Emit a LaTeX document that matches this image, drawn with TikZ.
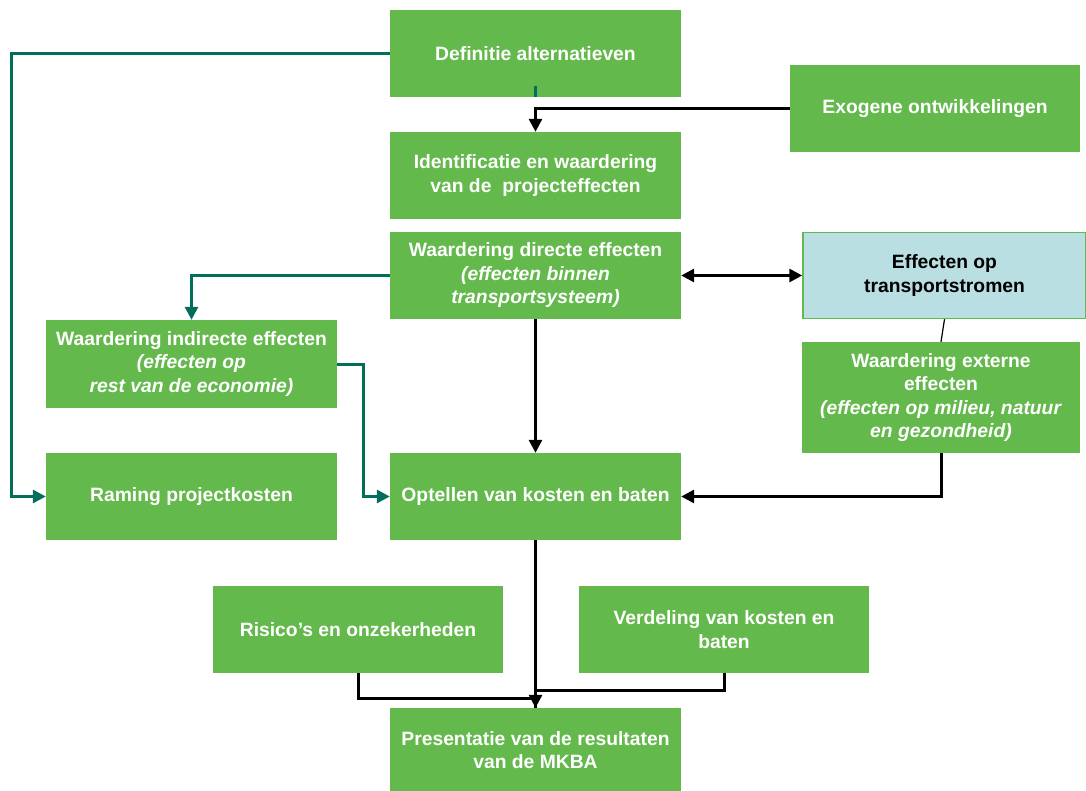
\documentclass[tikz,border=0pt]{standalone}
\usepackage{fontspec}
\setmainfont{Liberation Sans}
\usetikzlibrary{arrows.meta}
\definecolor{boxgreen}{RGB}{99,185,75}
\definecolor{lineteal}{RGB}{0,110,90}
\definecolor{lightblue}{RGB}{185,223,227}
\tikzset{
  box/.style={fill=boxgreen, draw=none, text=white, align=center, inner sep=0pt,
    font=\fontsize{19.3}{23.5}\selectfont\bfseries},
  tealline/.style={draw=lineteal, line width=3pt},
  blkline/.style={draw=black, line width=3pt},
  tip/.style={-{Triangle[length=13pt,width=13pt]}},
}
\begin{document}
\begin{tikzpicture}[x=1pt,y=-1pt]
\useasboundingbox (0,0) rectangle (1086,791);
% boxes
\node[box, minimum width=291pt, minimum height=87pt] (def) at (535.5,53.5) {Definitie alternatieven};
\node[box, minimum width=290pt, minimum height=87pt] (exo) at (935,108.5) {Exogene ontwikkelingen};
\node[box, minimum width=291pt, minimum height=87pt] (ide) at (535.5,175.5) {Identificatie en waardering\\van de\ \ projecteffecten};
\node[box, minimum width=291pt, minimum height=87pt] (dir) at (535.5,275.5) {Waardering directe effecten\\\textit{(effecten binnen}\\\textit{transportsysteem)}};
\node[box, fill=lightblue, draw=boxgreen, line width=1.5pt, text=black, minimum width=283pt, minimum height=86pt] (eff) at (944.5,275.5) {Effecten op\\transportstromen};
\node[box, minimum width=291pt, minimum height=88pt] (ind) at (191.5,364) {Waardering indirecte effecten\\\textit{(effecten op}\\\textit{rest van de economie)}};
\node[box, minimum width=278pt, minimum height=111pt] (ext) at (941,397.5) {Waardering externe\\effecten\\\textit{(effecten op milieu, natuur}\\\textit{en gezondheid)}};
\node[box, minimum width=291pt, minimum height=87pt] (ram) at (191.5,496.5) {Raming projectkosten};
\node[box, minimum width=291pt, minimum height=87pt] (opt) at (535.5,496.5) {Optellen van kosten en baten};
\node[box, minimum width=290pt, minimum height=87pt] (ris) at (358,629.5) {Risico’s en onzekerheden};
\node[box, minimum width=290pt, minimum height=87pt] (ver) at (724,629.5) {Verdeling van kosten en\\baten};
\node[box, minimum width=291pt, minimum height=84pt] (pre) at (535.5,750) {Presentatie van de resultaten\\van de MKBA};
% teal connectors
\draw[tealline] (def.south) -- ++(0,-11);
\draw[tealline, tip] (def.west) -- ++(-378,0) |- (ram.west);
\draw[tealline, tip] (dir.west) -| (ind.north);
\draw[tealline, tip] (ind.east) -- ++(26,0) |- (opt.west);
% black connectors
\draw[blkline, tip] (exo.west) -| (ide.north);
\draw[blkline, {Triangle[length=13pt,width=13pt]}-{Triangle[length=13pt,width=13pt]}] (dir.east) -- (eff.west);
\draw[black, line width=1.2pt] (eff.south) -- (ext.north);
\draw[blkline, tip] (dir.south) -- (opt.north);
\draw[blkline, tip] (ext.south) |- (opt.east);
\draw[blkline] (ris.south) -- ++(0,25) -| (pre.north);
\draw[blkline] (ver.south) -- ++(0,17) -| (pre.north);
\draw[blkline, tip] (opt.south) -- (pre.north);
\end{tikzpicture}
\end{document}
